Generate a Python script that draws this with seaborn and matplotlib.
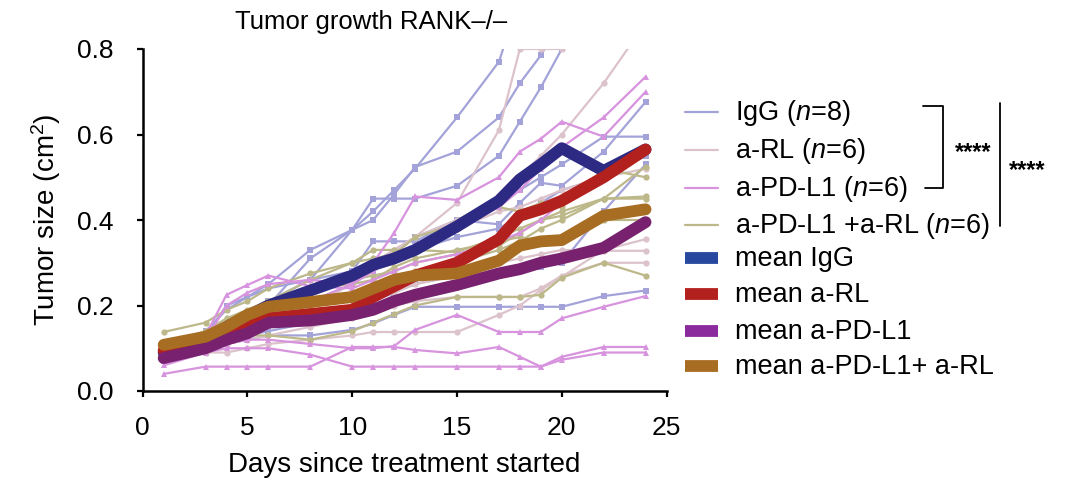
import matplotlib
matplotlib.use('Agg')
import matplotlib.pyplot as plt
from matplotlib.lines import Line2D
import seaborn as sns
import pandas as pd
import numpy as np

nan = np.nan

days = [1, 3, 4, 5, 6, 8, 10, 11, 12, 13, 15, 17, 18, 19, 20, 22, 24]

# individual mice, IgG (n=8)
igg_1 = [0.10, 0.13, 0.15, 0.18, 0.21, 0.26, 0.377, 0.42, 0.47, 0.52, 0.64, 0.77, 0.92, nan, nan, nan, nan]
igg_2 = [0.09, 0.14, 0.19, 0.22, 0.25, 0.33, 0.377, 0.40, 0.46, 0.524, 0.56, 0.64, 0.72, 0.785, 0.87, nan, nan]
igg_3 = [0.08, 0.11, 0.14, 0.17, 0.20, 0.31, 0.377, 0.45, 0.45, 0.45, 0.48, 0.55, 0.63, 0.71, 0.80, nan, nan]
igg_4 = [0.08, 0.11, 0.13, 0.15, 0.17, 0.20, 0.25, 0.28, 0.32, 0.36, 0.40, 0.39, 0.44, 0.487, 0.48, 0.56, 0.676]
igg_5 = [0.10, 0.12, 0.14, 0.16, 0.19, 0.23, 0.28, 0.35, 0.35, 0.35, 0.40, 0.44, 0.47, 0.50, 0.53, 0.595, 0.595]
igg_6 = [0.08, 0.10, 0.11, 0.12, 0.13, 0.13, 0.143, 0.158, 0.178, 0.197, 0.197, 0.197, 0.197, 0.197, 0.197, 0.222, 0.235]
igg_7 = [0.09, 0.11, 0.12, 0.13, 0.14, 0.16, 0.19, 0.21, 0.23, 0.25, 0.27, 0.28, 0.28, 0.29, 0.30, 0.42, 0.53]
igg_8 = [0.11, 0.13, 0.20, 0.22, 0.24, 0.26, 0.28, 0.30, 0.31, 0.33, 0.36, 0.38, 0.41, 0.44, 0.47, 0.50, 0.55]

# a-RL (n=6)
rl_1 = [0.09, 0.11, 0.12, 0.14, 0.16, 0.20, 0.25, 0.30, 0.33, 0.36, 0.44, 0.61, 0.80, 0.80, 0.80, nan, nan]
rl_2 = [0.10, 0.13, 0.15, 0.17, 0.19, 0.23, 0.27, 0.30, 0.33, 0.36, 0.40, 0.45, 0.50, 0.55, 0.60, 0.72, 0.86]
rl_3 = [0.08, 0.09, 0.09, 0.10, 0.11, 0.12, 0.13, 0.138, 0.138, 0.138, 0.138, 0.178, 0.20, 0.236, 0.267, 0.33, 0.355]
rl_4 = [0.10, 0.12, 0.13, 0.15, 0.16, 0.18, 0.20, 0.22, 0.23, 0.25, 0.27, 0.30, 0.31, 0.32, 0.33, 0.328, 0.328]
rl_5 = [0.09, 0.10, 0.11, 0.12, 0.13, 0.15, 0.17, 0.19, 0.20, 0.21, 0.22, 0.22, 0.22, 0.24, 0.27, 0.30, 0.30]
rl_6 = [0.10, 0.12, 0.14, 0.17, 0.20, 0.24, 0.27, 0.30, 0.32, 0.34, 0.38, 0.42, 0.43, 0.45, 0.47, 0.50, 0.52]

# a-PD-L1 (n=6)
pd_1 = [0.08, 0.12, 0.20, 0.23, 0.25, 0.26, 0.25, 0.30, 0.37, 0.455, 0.447, 0.50, 0.56, 0.59, 0.63, 0.595, 0.70]
pd_2 = [0.07, 0.10, 0.13, 0.16, 0.18, 0.21, 0.25, 0.28, 0.31, 0.34, 0.38, 0.43, 0.47, 0.52, 0.57, 0.64, 0.735]
pd_3 = [0.07, 0.10, 0.11, 0.12, 0.12, 0.11, 0.10, 0.10, 0.105, 0.143, 0.178, 0.138, 0.138, 0.138, 0.17, 0.197, 0.222]
pd_4 = [0.04, 0.057, 0.057, 0.057, 0.057, 0.057, 0.103, 0.103, 0.103, 0.096, 0.088, 0.103, 0.08, 0.057, 0.08, 0.103, 0.103]
pd_5 = [0.06, 0.09, 0.10, 0.10, 0.10, 0.085, 0.057, 0.057, 0.057, 0.057, 0.057, 0.057, 0.057, 0.057, 0.073, 0.09, 0.09]
pd_6 = [0.08, 0.13, 0.225, 0.248, 0.27, 0.245, 0.24, 0.26, 0.28, 0.30, 0.32, 0.35, 0.37, 0.40, 0.44, 0.50, 0.56]

# a-PD-L1 + a-RL (n=6)
co_1 = [0.138, 0.16, 0.19, 0.21, 0.24, 0.275, 0.30, 0.33, 0.33, 0.33, 0.325, 0.36, 0.38, 0.40, 0.42, 0.45, 0.45]
co_2 = [0.10, 0.12, 0.14, 0.16, 0.18, 0.20, 0.22, 0.24, 0.26, 0.28, 0.30, 0.33, 0.35, 0.38, 0.40, 0.45, 0.525]
co_3 = [0.10, 0.12, 0.12, 0.13, 0.13, 0.12, 0.14, 0.16, 0.18, 0.20, 0.22, 0.22, 0.22, 0.225, 0.265, 0.30, 0.27]
co_4 = [0.10, 0.13, 0.15, 0.17, 0.19, 0.23, 0.26, 0.27, 0.28, 0.30, 0.32, 0.34, 0.37, 0.40, 0.41, 0.45, 0.455]
co_5 = [0.11, 0.14, 0.17, 0.19, 0.21, 0.26, 0.30, 0.31, 0.32, 0.36, 0.39, 0.43, 0.42, 0.44, 0.43, 0.52, 0.50]
co_6 = [0.09, 0.12, 0.14, 0.16, 0.20, 0.24, 0.25, 0.26, 0.29, 0.31, 0.33, 0.35, 0.36, 0.35, 0.36, 0.40, 0.40]

# group means as drawn
mean_igg = [0.09, 0.12, 0.15, 0.175, 0.20, 0.235, 0.27, 0.295, 0.31, 0.33, 0.385, 0.445, 0.495, 0.53, 0.568, 0.515, 0.565]
mean_rl = [0.095, 0.12, 0.14, 0.16, 0.17, 0.18, 0.19, 0.22, 0.245, 0.27, 0.30, 0.355, 0.41, 0.425, 0.445, 0.50, 0.565]
mean_pd = [0.077, 0.10, 0.12, 0.135, 0.16, 0.165, 0.178, 0.19, 0.21, 0.225, 0.248, 0.275, 0.285, 0.30, 0.31, 0.335, 0.395]
mean_co = [0.108, 0.127, 0.15, 0.178, 0.197, 0.208, 0.22, 0.24, 0.26, 0.27, 0.275, 0.305, 0.34, 0.35, 0.353, 0.41, 0.425]

groups = {
    'IgG': [igg_1, igg_2, igg_3, igg_4, igg_5, igg_6, igg_7, igg_8],
    'a-RL': [rl_1, rl_2, rl_3, rl_4, rl_5, rl_6],
    'a-PD-L1': [pd_1, pd_2, pd_3, pd_4, pd_5, pd_6],
    'combo': [co_1, co_2, co_3, co_4, co_5, co_6],
}
means = {'IgG': mean_igg, 'a-RL': mean_rl, 'a-PD-L1': mean_pd, 'combo': mean_co}

thin_col = {'IgG': '#a3a3d9', 'a-RL': '#dcc3cb', 'a-PD-L1': '#d793de', 'combo': '#bdb88a'}
thin_mk = {'IgG': 's', 'a-RL': 'o', 'a-PD-L1': '^', 'combo': 'o'}
mean_col = {'IgG': '#2c2a82', 'a-RL': '#b3211f', 'a-PD-L1': '#77216f', 'combo': '#a76d22'}

rows = []
for g, mice in groups.items():
    for m, vals in enumerate(mice):
        for d, v in zip(days, vals):
            rows.append((g, f'{g}_{m}', d, v))
df = pd.DataFrame(rows, columns=['group', 'mouse', 'day', 'size']).dropna()

df_mean = pd.DataFrame([(g, d, v) for g, vals in means.items() for d, v in zip(days, vals)],
                       columns=['group', 'day', 'size'])

sns.set_style('ticks')
plt.rcParams['font.family'] = ['Liberation Sans', 'DejaVu Sans']
plt.rcParams['mathtext.fontset'] = 'custom'
plt.rcParams['mathtext.rm'] = 'Liberation Sans'
plt.rcParams['mathtext.it'] = 'Liberation Sans:italic'
plt.rcParams['text.color'] = 'black'
plt.rcParams['axes.labelcolor'] = 'black'

fig = plt.figure(figsize=(10.8, 4.96), dpi=100)
ax = fig.add_axes([142.7 / 1080, 1 - 391 / 496, (666.5 - 142.7) / 1080, (391 - 49) / 496])

for g in ['IgG', 'a-RL', 'combo', 'a-PD-L1']:
    sns.lineplot(data=df[df.group == g], x='day', y='size', units='mouse', estimator=None,
                 color=thin_col[g], marker=thin_mk[g], markersize=4.5, markeredgewidth=0,
                 linewidth=1.6, ax=ax, legend=False)

for g in ['IgG', 'a-RL', 'a-PD-L1', 'combo']:
    sns.lineplot(data=df_mean[df_mean.group == g], x='day', y='size', color=mean_col[g],
                 linewidth=8.5, ax=ax, legend=False)

ax.set_xlim(0, 25)
ax.set_ylim(0, 0.8)
ax.set_xticks([0, 5, 10, 15, 20, 25])
ax.set_yticks([0, 0.2, 0.4, 0.6, 0.8])
ax.set_yticklabels(['0.0', '0.2', '0.4', '0.6', '0.8'])
ax.tick_params(labelsize=19, length=4, width=1.6, direction='out', colors='black')
ax.tick_params(axis='x', pad=14)
ax.tick_params(axis='y', pad=17)
for s in ['left', 'bottom']:
    ax.spines[s].set_linewidth(1.8)
    ax.spines[s].set_color('black')
sns.despine(ax=ax)
ax.set_xlabel('Days since treatment started', fontsize=20, labelpad=9)
ax.set_ylabel('Tumor size (cm$^2$)', fontsize=20, labelpad=10)
fig.text(371 / 1080, 1 - 22 / 496, 'Tumor growth RANK\u2013/\u2013', fontsize=18.5,
         ha='center', va='center')


def px(x, y):
    return x / 1080, 1 - y / 496


def fig_line(xs, ys, **kw):
    pts = [px(x, y) for x, y in zip(xs, ys)]
    fig.add_artist(Line2D([p[0] for p in pts], [p[1] for p in pts],
                          transform=fig.transFigure, **kw))


# legend, drawn entry by entry
legend_labels = ['IgG ($n$=8)', 'a-RL ($n$=6)', 'a-PD-L1 ($n$=6)', 'a-PD-L1 +a-RL ($n$=6)',
                 'mean IgG', 'mean a-RL', 'mean a-PD-L1', 'mean a-PD-L1+ a-RL']
legend_cols = [thin_col['IgG'], thin_col['a-RL'], thin_col['a-PD-L1'], thin_col['combo'],
               '#2848a0', '#b3211f', '#8a2a9c', '#a76d22']
legend_y = [112, 150, 188, 225, 258, 294, 331, 366]
for i, (lab, col, y) in enumerate(zip(legend_labels, legend_cols, legend_y)):
    if i < 4:
        fig_line([685, 718], [y, y], color=col, lw=1.6)
    else:
        fig_line([685, 718], [y, y], color=col, lw=8.5, solid_capstyle='butt')
    fig.text(*px(735, y + 1), lab, fontsize=19.5, ha='left', va='center')

fig_line([923, 943, 943, 925], [106, 106, 188, 188], color='black', lw=1.3)
fig_line([1000, 1000], [103, 226], color='black', lw=1.3)
fig.text(*px(973, 153), '****', fontsize=17, fontweight='bold', ha='center', va='center')
fig.text(*px(1027, 171), '****', fontsize=17, fontweight='bold', ha='center', va='center')

fig.savefig('out.png', dpi=100)
